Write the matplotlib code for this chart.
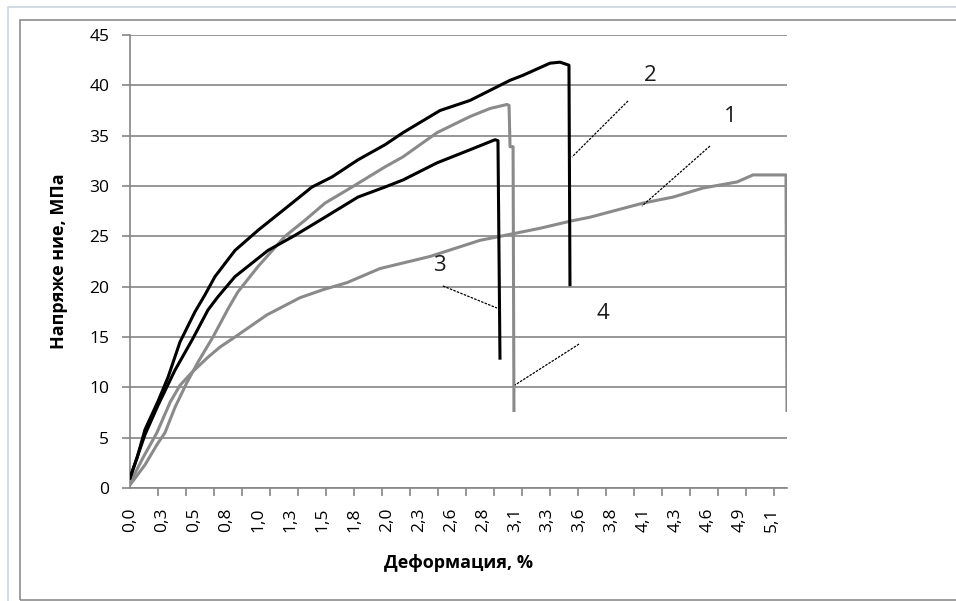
import matplotlib

matplotlib.use("Agg")
import matplotlib.pyplot as plt
from matplotlib.patches import Rectangle

# curve 1 (grey, longest)
strain_1 = [0.000, 0.103, 0.214, 0.318, 0.397, 0.493, 0.620, 0.715, 0.834, 1.088, 1.350, 1.533,
            1.724, 1.986, 2.383, 2.780, 3.019, 3.257, 3.495, 3.654, 4.075, 4.314, 4.552, 4.822,
            4.949, 5.211, 5.219]
stress_1 = [0.5, 3.0, 5.5, 8.5, 10.2, 11.5, 13.0, 14.0, 15.0, 17.2, 18.9, 19.7,
            20.4, 21.8, 23.0, 24.6, 25.2, 25.8, 26.5, 26.9, 28.3, 28.9, 29.8, 30.4,
            31.1, 31.1, 7.7]

# curve 2 (black, strongest)
strain_2 = [0.000, 0.056, 0.119, 0.222, 0.302, 0.397, 0.516, 0.596, 0.675, 0.834, 1.017, 1.287,
            1.446, 1.605, 1.811, 2.026, 2.169, 2.463, 2.701, 3.019, 3.122, 3.336, 3.416, 3.487,
            3.495]
stress_2 = [1.0, 3.0, 5.8, 8.6, 11.0, 14.5, 17.5, 19.2, 21.0, 23.6, 25.6, 28.3,
            29.9, 30.9, 32.6, 34.1, 35.3, 37.5, 38.5, 40.5, 41.0, 42.2, 42.3, 42.0,
            20.2]

# curve 3 (black, lower)
strain_3 = [0.000, 0.119, 0.222, 0.357, 0.493, 0.620, 0.699, 0.834, 1.096, 1.311, 1.549, 1.811,
            2.026, 2.169, 2.439, 2.701, 2.900, 2.923, 2.939]
stress_3 = [1.0, 5.3, 8.2, 11.7, 14.7, 17.7, 19.0, 21.0, 23.6, 25.1, 26.9, 28.9,
            29.9, 30.6, 32.3, 33.6, 34.6, 34.5, 12.9]

# curve 4 (grey, upper)
strain_4 = [0.000, 0.119, 0.214, 0.278, 0.357, 0.453, 0.540, 0.659, 0.779, 0.858, 1.017, 1.231,
            1.390, 1.549, 1.764, 2.026, 2.169, 2.439, 2.701, 2.860, 2.995, 3.011, 3.019, 3.043,
            3.050]
stress_4 = [0.3, 2.3, 4.3, 5.5, 8.0, 10.5, 12.5, 15.0, 17.8, 19.5, 22.0, 25.0,
            26.6, 28.3, 29.9, 31.9, 32.9, 35.3, 36.9, 37.7, 38.1, 38.0, 33.9, 33.9,
            7.7]

x_labels = ["0,0", "0,3", "0,5", "0,8", "1,0", "1,3", "1,5", "1,8", "2,0", "2,3", "2,6",
            "2,8", "3,1", "3,3", "3,6", "3,8", "4,1", "4,3", "4,6", "4,9", "5,1"]

FONT = "Open Sans"
GRID = "#858585"
GREY = "#8a8a8a"

fig = plt.figure(figsize=(9.56, 6.01), dpi=100)
fig.patches.append(Rectangle((8 / 956, -0.1), 1.2, 1.1 - 7 / 601, transform=fig.transFigure,
                             fill=False, ec="#c9d3e2", lw=1.2))
fig.patches.append(Rectangle((20 / 956, 1.5 / 601), 1.2, 1 - 21.5 / 601, transform=fig.transFigure,
                             fill=False, ec="#8c8c8c", lw=1.2))

ax = fig.add_axes([130 / 956, 1 - 488 / 601, 657 / 956, 453 / 601])

ax.plot(strain_1, stress_1, color=GREY, lw=2.2, zorder=3)
ax.plot(strain_4, stress_4, color=GREY, lw=2.2, zorder=3)
ax.plot(strain_3, stress_3, color="black", lw=2.2, zorder=4)
ax.plot(strain_2, stress_2, color="black", lw=2.2, zorder=4)

ax.set_xlim(0, 5.219)
ax.set_ylim(0, 45)
ax.set_yticks(range(0, 46, 5))
ax.grid(axis="y", color=GRID, lw=1.2)
ax.set_axisbelow(True)
for s in ["top", "right"]:
    ax.spines[s].set_visible(False)
for s in ["left", "bottom"]:
    ax.spines[s].set_color(GRID)
    ax.spines[s].set_linewidth(1.2)

# labels and tick marks have different spacing (as in the excel original)
step_lab = 5.1 / 20
ax.set_xticks([i * step_lab for i in range(len(x_labels))])
ax.set_xticklabels(x_labels, rotation=90, fontsize=12.5, family=FONT)
ax.tick_params(axis="x", which="major", length=0, pad=14)
ax.set_xticks([i * 0.2224 for i in range(24)], minor=True)
ax.tick_params(axis="x", which="minor", length=6, width=1.2, color=GRID)
ax.tick_params(axis="y", length=6, width=1.2, color=GRID, pad=9, labelsize=12.5)
for t in ax.get_yticklabels():
    t.set_family(FONT)

ax.set_xlabel("Деформация, %", fontsize=13, fontweight="bold", family=FONT, labelpad=16)
ax.set_ylabel("Напряже ние, МПа", fontsize=13, fontweight="bold", family=FONT, labelpad=15)

# curve numbers with leader lines
marks = [("2", 4.131, 41.0, (3.956, 38.45), (3.511, 32.88)),
         ("1", 4.766, 36.86, (4.607, 33.97), (4.067, 28.01)),
         ("3", 2.455, 22.15, (2.486, 20.07), (2.915, 17.88)),
         ("4", 3.757, 17.38, (3.567, 14.30), (3.058, 10.23))]
for txt, tx, ty, p0, p1 in marks:
    ax.text(tx, ty, txt, fontsize=16, family=FONT, color="#1a1a1a", ha="center", va="center", zorder=6)
    ax.plot([p0[0], p1[0]], [p0[1], p1[1]], color="black", lw=0.9, ls=(0, (2, 1)), zorder=5)

fig.savefig("out.png", dpi=100, facecolor="white")
